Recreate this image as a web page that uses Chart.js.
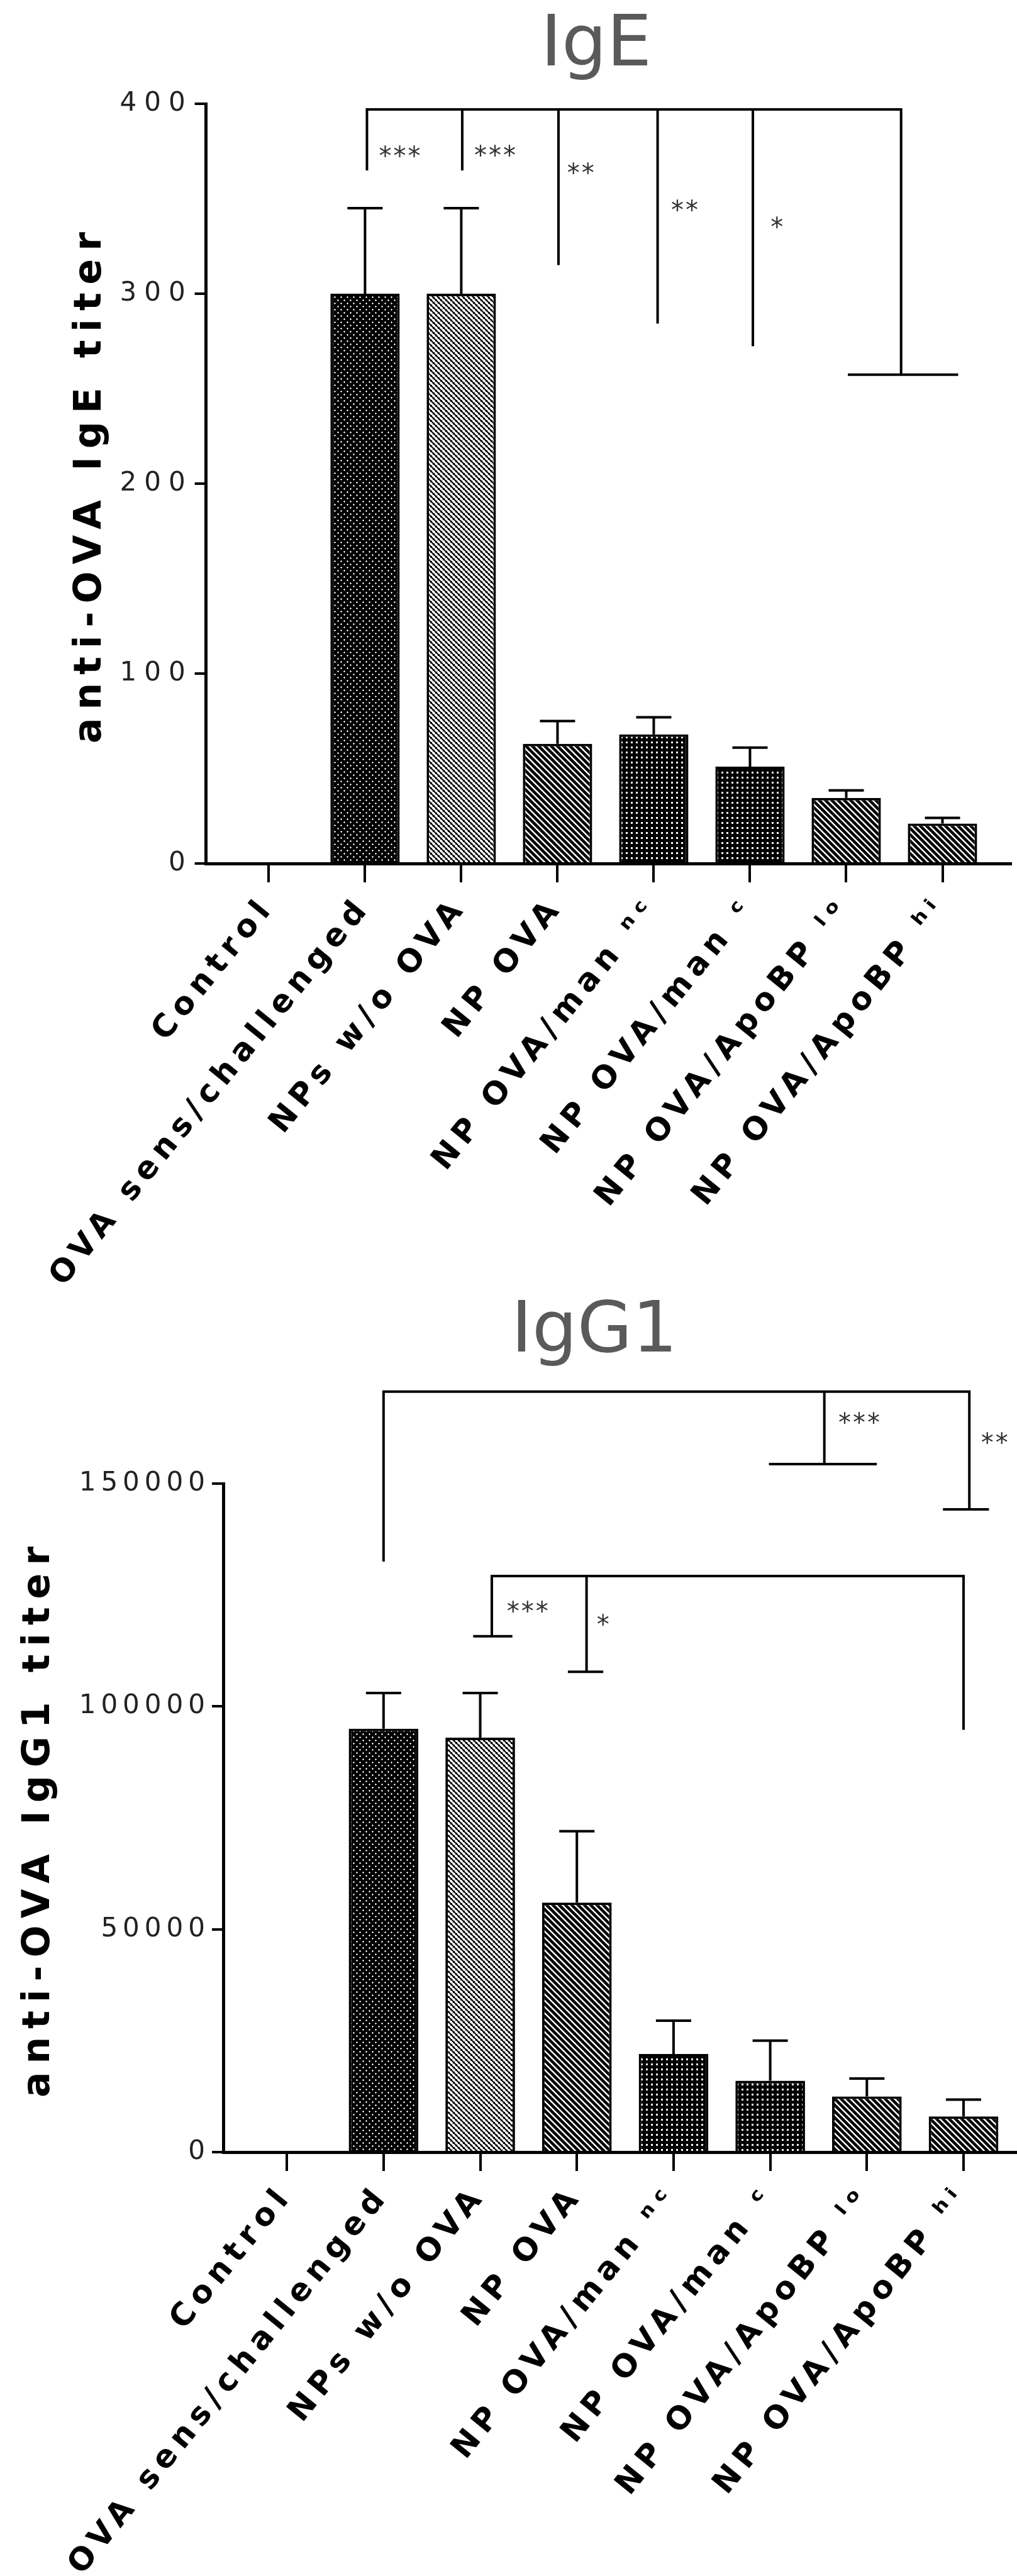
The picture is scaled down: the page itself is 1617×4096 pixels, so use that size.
<!DOCTYPE html>
<html>
<head>
<meta charset="utf-8">
<script src="https://cdn.jsdelivr.net/npm/chart.js@4.4.1/dist/chart.umd.min.js"></script>
<style>
  html, body { margin: 0; padding: 0; background: #fff; }
  #wrap { position: relative; width: 1617px; height: 4096px; overflow: hidden; background: #fff; }
  canvas { position: absolute; left: 0; }
  #c1 { top: 0; }
  #c2 { top: 2030px; }
</style>
</head>
<body>
<div id="wrap">
  <canvas id="c1" width="1617" height="2100"></canvas>
  <canvas id="c2" width="1617" height="2066"></canvas>
</div>
<script>
// ---------------- data ----------------
const categories = ['Control', 'OVA sens/challenged', 'NPs w/o OVA', 'NP OVA',
  'NP OVA/man \u207F\u1D9C', 'NP OVA/man \u1D9C', 'NP OVA/ApoBP \u02E1\u1D52', 'NP OVA/ApoBP \u02B0\u2071'];

const igeMean = [0, 300, 300, 63, 68, 51, 34.5, 21];
const igeErr  = [0, 45, 45, 12, 9, 10, 4, 3];
const igeTicks = [0, 100, 200, 300, 400];

const igg1Mean = [0, 95000, 93000, 56000, 22000, 16000, 12500, 8000];
const igg1Err  = [0, 8000, 10000, 16000, 7500, 9000, 4000, 3800];
const igg1Ticks = [0, 50000, 100000, 150000];

// significance annotations (data coordinates: x = category index, y = value)
const igeLines = [[1.02, 6.57, 397]];
const igeDrops = [[1.02, 397, 365.6], [2.01, 397, 365.6], [3.01, 397, 315.7],
                  [4.04, 397, 284.9], [5.03, 397, 273], [6.57, 397, 257.4]];
const igeCaps  = [[6.03, 7.15, 257.4]];
const igeStars = [['***', 1.37, 375.7], ['***', 2.36, 376], ['**', 3.25, 366.5],
                  ['**', 4.33, 347], ['*', 5.29, 338]];

const igg1Lines = [[1.0, 7.06, 170640], [2.12, 7.0, 129270]];
const igg1Drops = [[1.0, 170640, 132790], [5.56, 170640, 154380], [7.06, 170640, 144200],
                   [2.12, 129270, 115760], [3.10, 129270, 107770], [7.0, 129270, 95030]];
const igg1Caps  = [[5.0, 6.09, 154380], [6.80, 7.25, 144200], [1.94, 2.32, 115760], [2.92, 3.26, 107770]];
const igg1Stars = [['***', 5.93, 165030], ['**', 7.33, 160470], ['***', 2.5, 122610], ['*', 3.28, 119660]];

// ---------------- styles ----------------
const FONT = "'DejaVu Sans', 'Noto Sans', sans-serif";

function tile(size, draw) {
  const c = document.createElement('canvas');
  c.width = size; c.height = size;
  const g = c.getContext('2d');
  draw(g, size);
  return g.createPattern(c, 'repeat');
}
const patDarkCross = tile(10, (g, s) => {
  g.fillStyle = '#000'; g.fillRect(0, 0, s, s);
  g.fillStyle = '#fff';
  [[2, 2], [7, 7]].forEach(([x, y]) => { g.fillRect(x - 1, y, 3, 1); g.fillRect(x, y - 1, 1, 3); });
});
const patLight = tile(8, (g, s) => {
  g.fillStyle = '#fff'; g.fillRect(0, 0, s, s);
  g.strokeStyle = '#000'; g.lineWidth = 2;
  g.beginPath();
  for (let o = -s; o <= s; o += s) { g.moveTo(o - 1, -1); g.lineTo(o + s + 1, s + 1); }
  g.stroke();
  g.fillStyle = '#000'; g.fillRect(0, 0, 3, 3); g.fillRect(4, 4, 3, 3);
});
const patHatch = tile(10, (g, s) => {
  g.fillStyle = '#fff'; g.fillRect(0, 0, s, s);
  g.strokeStyle = '#000'; g.lineWidth = 4.5;
  g.beginPath();
  for (let o = -s; o <= s; o += s) { g.moveTo(o - 2, -2); g.lineTo(o + s + 2, s + 2); }
  g.stroke();
});
const patDarkDots = tile(8, (g, s) => {
  g.fillStyle = '#000'; g.fillRect(0, 0, s, s);
  g.fillStyle = '#fff'; g.fillRect(3, 3, 3, 3);
});
const barPatterns = [patHatch, patDarkCross, patLight, patHatch, patDarkDots, patDarkDots, patHatch, patHatch];

function wrapLS(obj, method, ls) {
  const orig = obj[method];
  if (!orig || orig.__ls) return;
  const f = function (...args) {
    const c = this.ctx; const prev = c.letterSpacing;
    c.letterSpacing = ls + 'px';
    try { return orig.apply(this, args); } finally { c.letterSpacing = prev; }
  };
  f.__ls = true;
  obj[method] = f;
}

function makePlugin(cfg) {
  return {
    id: 'custom_' + cfg.id,
    afterLayout(chart) {
      const xs = chart.scales.x, ys = chart.scales.y;
      wrapLS(xs, 'drawLabels', cfg.xLS);
      wrapLS(ys, 'drawLabels', cfg.yLS);
      wrapLS(ys, 'drawTitle', cfg.yTitleLS);
      const tb = chart.titleBlock;
      if (tb && !tb.__w) {
        const orig = tb.draw;
        tb.draw = function (...a) {
          const c = this.ctx; c.save();
          c.translate(cfg.titleCenterX - (this.left + this.right) / 2, 0);
          orig.apply(this, a); c.restore();
        };
        tb.__w = true;
      }
    },
    afterDatasetsDraw(chart) {
      const ds = chart.data.datasets[0];
      const xs = chart.scales.x, ys = chart.scales.y, c = chart.ctx;
      c.save();
      c.strokeStyle = '#000'; c.lineWidth = 4; c.lineCap = 'butt';
      ds.data.forEach((p, i) => {
        const e = ds.errorPlus[i];
        if (!e) return;
        const x = xs.getPixelForValue(p.x);
        const y0 = ys.getPixelForValue(p.y), y1 = ys.getPixelForValue(p.y + e);
        c.beginPath();
        c.moveTo(x, y0); c.lineTo(x, y1);
        c.moveTo(x - 28, y1); c.lineTo(x + 28, y1);
        c.stroke();
      });
      c.restore();
    },
    afterDraw(chart) {
      const xs = chart.scales.x, ys = chart.scales.y, c = chart.ctx;
      const X = v => xs.getPixelForValue(v), Y = v => ys.getPixelForValue(v);
      c.save();
      c.strokeStyle = '#000'; c.lineWidth = 4; c.lineCap = 'square';
      c.beginPath();
      cfg.lines.forEach(([x1, x2, y]) => { c.moveTo(X(x1), Y(y)); c.lineTo(X(x2), Y(y)); });
      cfg.drops.forEach(([x, y1, y2]) => { c.moveTo(X(x), Y(y1)); c.lineTo(X(x), Y(y2)); });
      cfg.caps.forEach(([x1, x2, y]) => { c.moveTo(X(x1), Y(y)); c.lineTo(X(x2), Y(y)); });
      c.stroke();
      const fs = 40;
      c.font = fs + 'px ' + FONT;
      c.fillStyle = '#333'; c.textAlign = 'center'; c.textBaseline = 'alphabetic';
      c.letterSpacing = '3px';
      cfg.stars.forEach(([t, x, y]) => { c.fillText(t, X(x), Y(y) + 0.58 * fs); });
      c.restore();
    }
  };
}

function build(cfg) {
  const canvas = document.getElementById(cfg.canvas);
  return new Chart(canvas, {
    type: 'bar',
    data: {
      datasets: [{
        data: cfg.mean.map((v, i) => ({ x: i, y: v })),
        errorPlus: cfg.err,
        backgroundColor: barPatterns,
        borderColor: '#000',
        borderWidth: 4,
        borderSkipped: 'start',
        barPercentage: 0.72,
        categoryPercentage: 1
      }]
    },
    options: {
      responsive: false,
      animation: false,
      devicePixelRatio: 1,
      layout: { padding: { left: 0, right: cfg.padRight, top: 0, bottom: 0 } },
      plugins: {
        legend: { display: false },
        tooltip: { enabled: false },
        title: {
          display: true, text: cfg.title, fullSize: false, color: '#5a5a5a',
          font: { family: FONT, size: 113, weight: 'normal', lineHeight: 1 },
          padding: { top: cfg.titlePadTop, bottom: cfg.titlePadBottom }
        }
      },
      scales: {
        x: {
          type: 'linear', min: cfg.xMin, max: cfg.xMax,
          offset: false, bounds: 'data',
          afterBuildTicks: s => { s.ticks = categories.map((_, i) => ({ value: i })); },
          afterFit: s => { s.height = cfg.xHeight; },
          ticks: {
            autoSkip: false, minRotation: 51, maxRotation: 51, padding: 12,
            color: '#000', font: { family: FONT, size: 50, weight: 'bold' },
            callback: v => categories[v]
          },
          grid: { display: true, offset: false, drawOnChartArea: false, drawTicks: true, tickLength: 30,
                  color: '#000', tickColor: '#000', tickWidth: 4, lineWidth: 4 },
          border: { display: true, color: '#000', width: 5, z: 1 }
        },
        y: {
          min: 0, max: cfg.yMax,
          afterBuildTicks: s => { s.ticks = cfg.yTicks.map(v => ({ value: v })); },
          afterFit: s => { s.width = cfg.yWidth; },
          ticks: { color: '#222', padding: 3, font: { family: FONT, size: 42, weight: 'normal' }, callback: v => String(v) },
          grid: { display: true, drawOnChartArea: false, drawTicks: true, tickLength: 18,
                  color: '#000', tickColor: '#000', tickWidth: 4, lineWidth: 4 },
          border: { display: true, color: '#000', width: 5, z: 1 },
          title: {
            display: true, text: cfg.yTitle, color: '#000',
            font: { family: FONT, size: 60, weight: 'bold', lineHeight: 1.2 },
            padding: { top: cfg.yTitlePad, bottom: 0 }
          }
        }
      }
    },
    plugins: [makePlugin(cfg)]
  });
}

build({
  id: 'ige', canvas: 'c1', title: 'IgE', yTitle: 'anti-OVA IgE titer',
  mean: igeMean, err: igeErr, yMax: 400, yTicks: igeTicks,
  xMin: -0.652, xMax: 7.709, padRight: 10,
  titlePadTop: 18, titlePadBottom: 34, xHeight: 727, yWidth: 327.6, yTitlePad: 108,
  titleCenterX: 948, xLS: 10, yLS: 12, yTitleLS: 13,
  lines: igeLines, drops: igeDrops, caps: igeCaps, stars: igeStars
});

build({
  id: 'igg1', canvas: 'c2', title: 'IgG1', yTitle: 'anti-OVA IgG1 titer',
  mean: igg1Mean, err: igg1Err, yMax: 150000, yTicks: igg1Ticks,
  xMin: -0.658, xMax: 7.54, padRight: 2,
  titlePadTop: 33, titlePadBottom: 183, xHeight: 674, yWidth: 355, yTitlePad: 26,
  titleCenterX: 945, xLS: 10, yLS: 8, yTitleLS: 13,
  lines: igg1Lines, drops: igg1Drops, caps: igg1Caps, stars: igg1Stars
});
</script>
</body>
</html>
